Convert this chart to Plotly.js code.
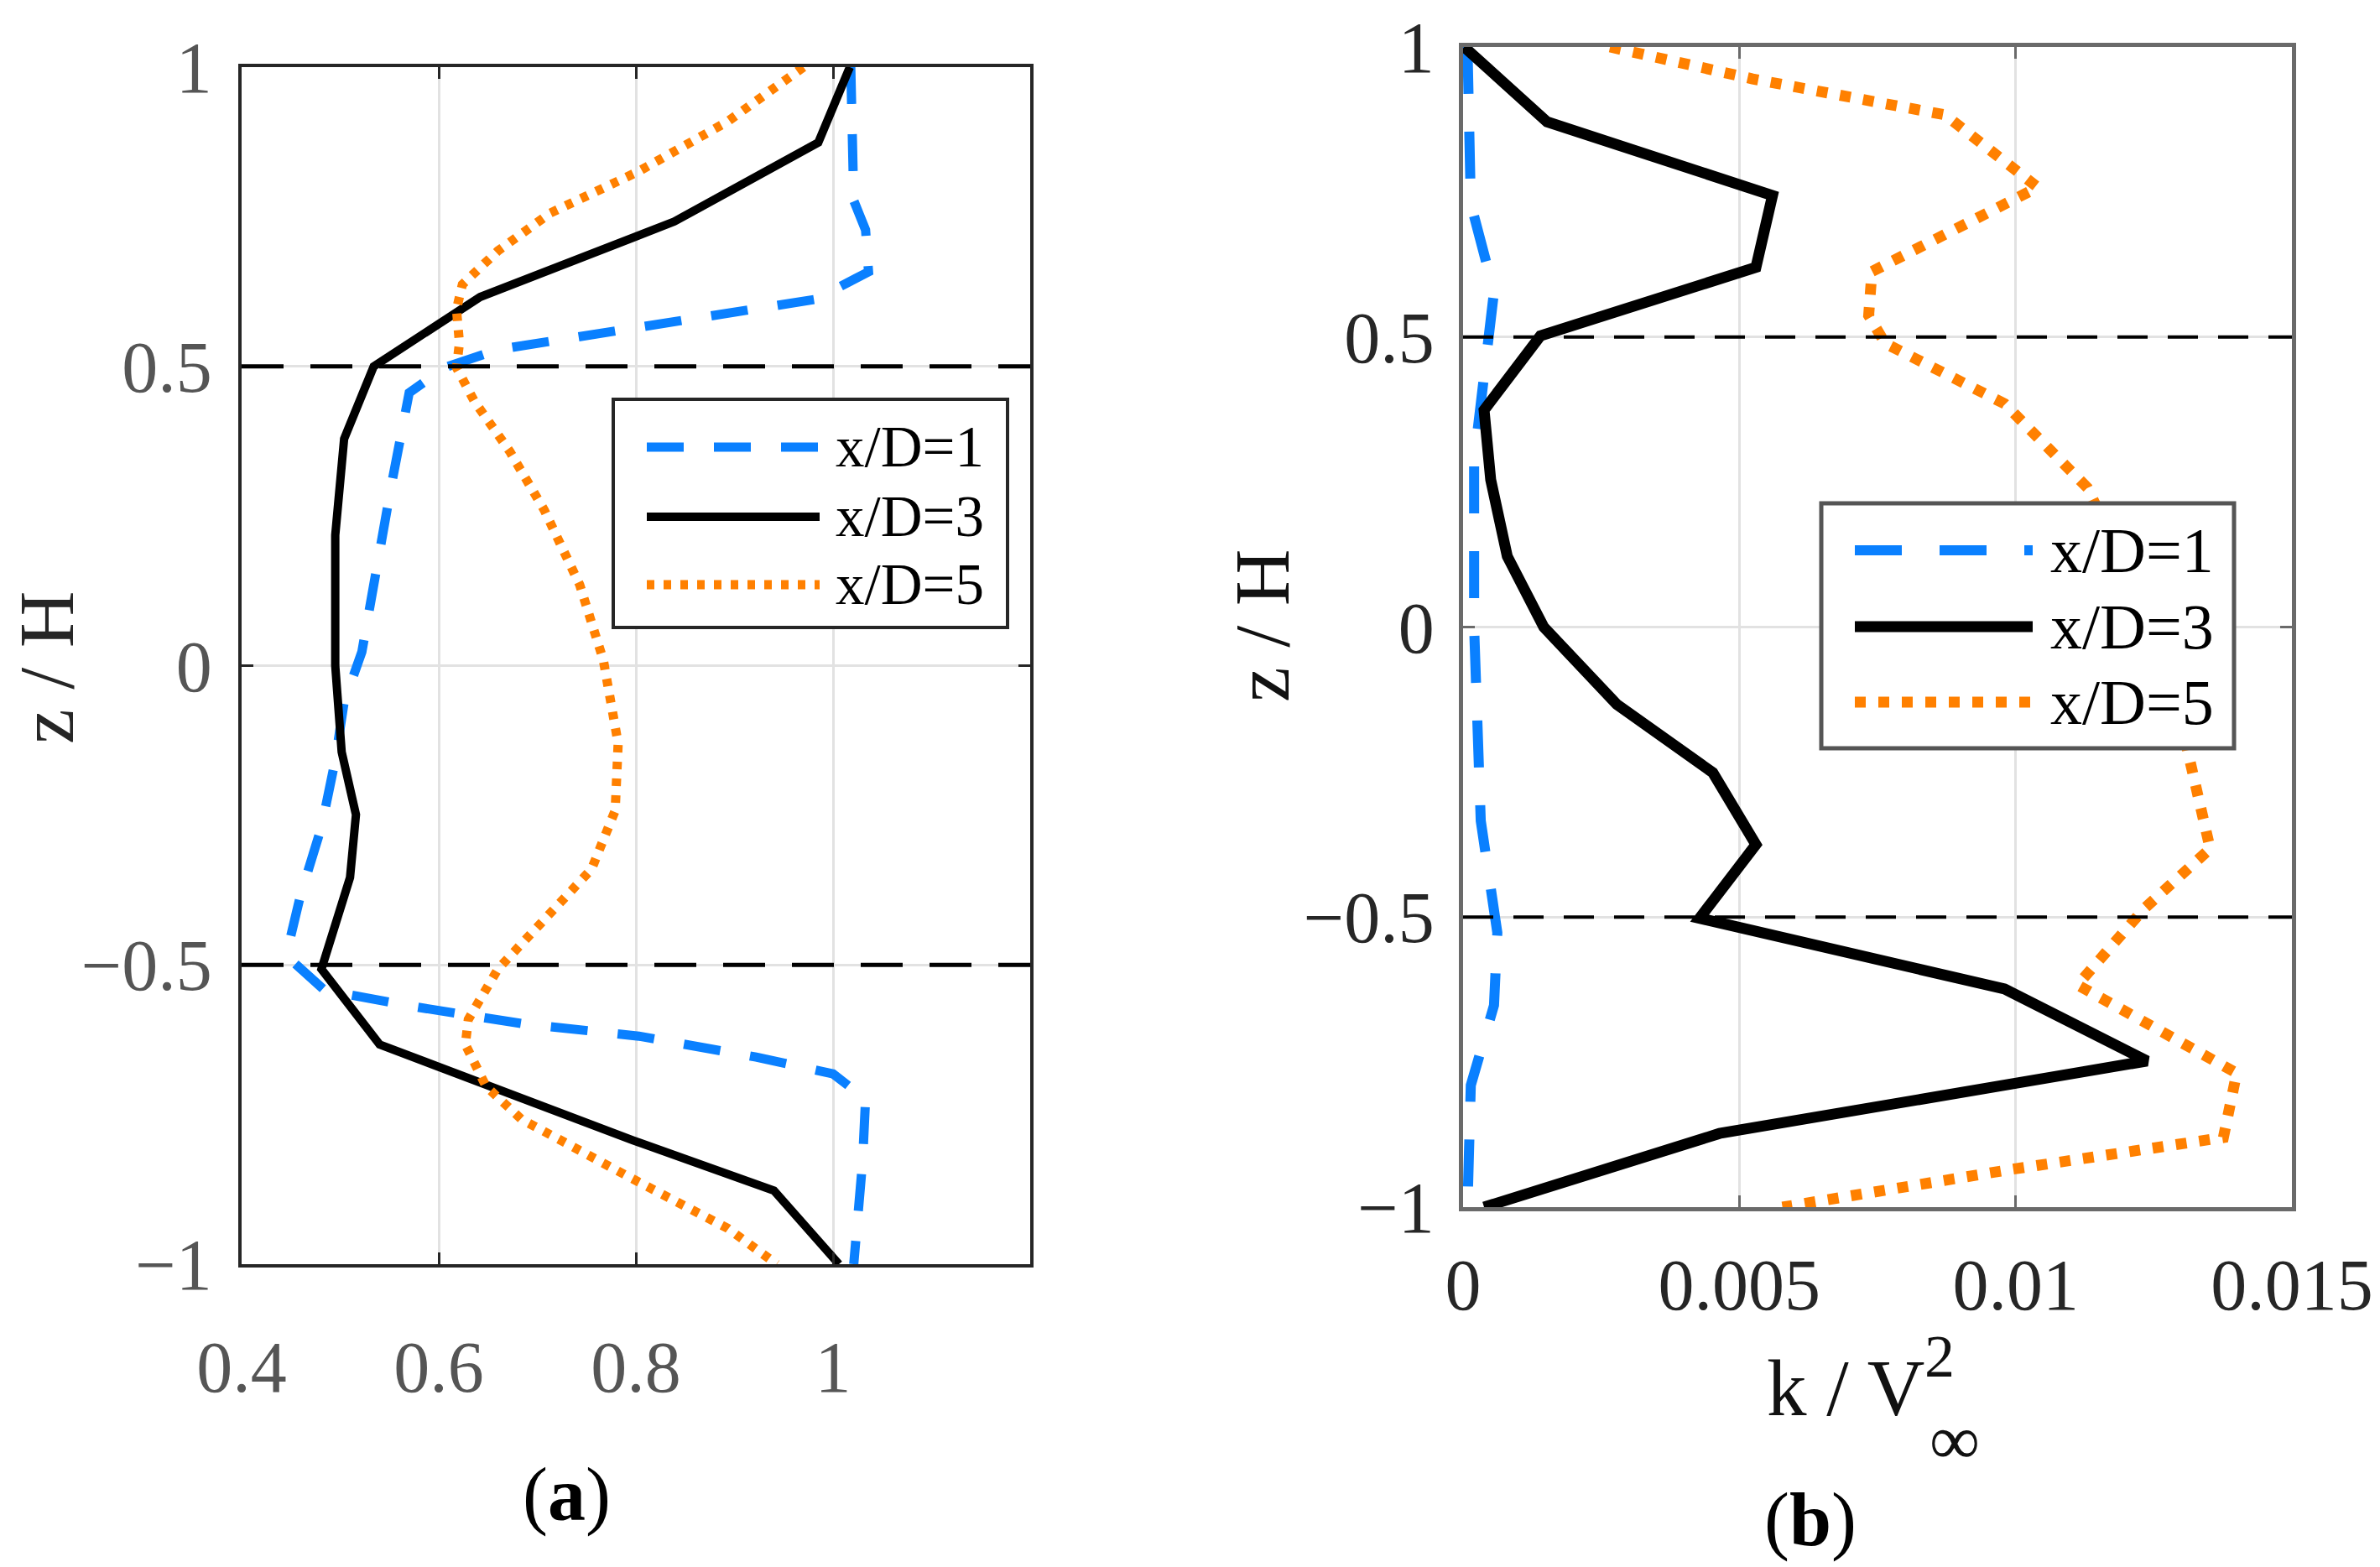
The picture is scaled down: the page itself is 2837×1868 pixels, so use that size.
<!DOCTYPE html>
<html>
<head>
<meta charset="utf-8">
<script src="https://cdn.plot.ly/plotly-3.0.1.min.js"></script>
<style>
  html, body { margin: 0; padding: 0; background: #ffffff; }
  #chart { width: 2837px; height: 1868px; }
</style>
</head>
<body>
<div id="chart"></div>
<script>
// ---------- data : panel (a) mean velocity u/V vs z/H ----------
const seriesNames = ["x/D=1", "x/D=3", "x/D=5"];

const zA_xD1 = [1, 0.777, 0.728, 0.658, 0.612, 0.567, 0.528, 0.498, 0.456, 0.302, 0.163, 0.023, -0.061, -0.158, -0.270, -0.382, -0.465, -0.493, -0.542, -0.570, -0.598, -0.619, -0.654, -0.682, -0.724, -0.828, -1];
const uA_xD1 = [1.018, 1.021, 1.033, 1.036, 0.982, 0.803, 0.660, 0.606, 0.570, 0.552, 0.537, 0.522, 0.504, 0.495, 0.481, 0.460, 0.448, 0.451, 0.484, 0.576, 0.684, 0.803, 0.922, 1.000, 1.033, 1.030, 1.021];

const zA_xD3 = [1, 0.874, 0.742, 0.616, 0.5, 0.379, 0.218, 0, -0.144, -0.249, -0.354, -0.507, -0.633, -0.793, -0.877, -1];
const uA_xD3 = [1.017, 0.985, 0.839, 0.642, 0.534, 0.504, 0.495, 0.495, 0.5015, 0.516, 0.510, 0.481, 0.540, 0.797, 0.940, 1.006];

const zA_xD5 = [1, 0.909, 0.826, 0.756, 0.693, 0.637, 0.595, 0.539, 0.498, 0.442, 0.358, 0.260, 0.135, 0.009, -0.130, -0.242, -0.340, -0.423, -0.507, -0.591, -0.633, -0.703, -0.758, -0.863, -0.940, -1];
const uA_xD5 = [0.970, 0.893, 0.803, 0.713, 0.660, 0.624, 0.618, 0.621, 0.618, 0.636, 0.672, 0.707, 0.743, 0.767, 0.782, 0.779, 0.755, 0.707, 0.660, 0.630, 0.627, 0.648, 0.684, 0.803, 0.893, 0.943];

// ---------- data : panel (b) turbulent kinetic energy k/V^2 vs z/H ----------
const zB_xD1 = [1, 0.730, 0.578, 0.44, 0.288, 0, -0.334, -0.527, -0.652, -0.790, -1];
const kB_xD1 = [0.00008, 0.00014, 0.00056, 0.00038, 0.0002, 0.0002, 0.00032, 0.00062, 0.00056, 0.00014, 0.00008];

const zB_xD3 = [1, 0.871, 0.744, 0.620, 0.502, 0.374, 0.254, 0.122, 0, -0.133, -0.251, -0.375, -0.502, -0.624, -0.748, -0.790, -0.873, -1];
const kB_xD3 = [0.00002, 0.00152, 0.0056, 0.0053, 0.0014, 0.00038, 0.0005, 0.0008, 0.00146, 0.00278, 0.00452, 0.0053, 0.00428, 0.0098, 0.01238, 0.0098, 0.00464, 0.00038];

const zB_xD5 = [1, 0.945, 0.883, 0.758, 0.613, 0.537, 0.489, 0.385, 0.240, 0.125, 0.0, -0.125, -0.230, -0.382, -0.486, -0.617, -0.769, -0.880, -0.935, -1];
const kB_xD5 = [0.00266, 0.00524, 0.00872, 0.0104, 0.0074, 0.00734, 0.00764, 0.0098, 0.0113, 0.0119, 0.0125, 0.0129, 0.01316, 0.01352, 0.01232, 0.01112, 0.0140, 0.01376, 0.00992, 0.00578];

// ---------- ticks ----------
const zTickVals = [-1, -0.5, 0, 0.5, 1];
const zTickText = ["\u22121", "\u22120.5", "0", "0.5", "1"];
const uTickVals = [0.4, 0.6, 0.8, 1];
const uTickText = ["0.4", "0.6", "0.8", "1"];
const kTickVals = [0, 0.005, 0.01, 0.015];
const kTickText = ["0", "0.005", "0.01", "0.015"];
const refLevels = [0.5, -0.5];

// ---------- styling ----------
const W = 2837, H = 1868;
const px = v => v / W;
const py = v => 1 - v / H;
const FONT = "Liberation Serif, Times New Roman, serif";
const BLUE = "#0a80ff", ORANGE = "#ff8000", BLACK = "#000000";

const styleA = [
  {color: BLUE, width: 11, dash: "44px,36px"},
  {color: BLACK, width: 10, dash: "solid"},
  {color: ORANGE, width: 11, dash: "9px,11px"}
];
const styleB = [
  {color: BLUE, width: 12, dash: "56px,45px"},
  {color: BLACK, width: 13, dash: "solid"},
  {color: ORANGE, width: 13, dash: "13px,15px"}
];

const seriesA = [[uA_xD1, zA_xD1], [uA_xD3, zA_xD3], [uA_xD5, zA_xD5]];
const seriesB = [[kB_xD1, zB_xD1], [kB_xD3, zB_xD3], [kB_xD5, zB_xD5]];

const traces = [];
seriesA.forEach((s, i) => traces.push({
  type: "scatter", mode: "lines", x: s[0], y: s[1], name: seriesNames[i],
  xaxis: "x", yaxis: "y", line: styleA[i], showlegend: false, hoverinfo: "skip"
}));
seriesB.forEach((s, i) => traces.push({
  type: "scatter", mode: "lines", x: s[0], y: s[1], name: seriesNames[i],
  xaxis: "x2", yaxis: "y2", line: styleB[i], showlegend: false, hoverinfo: "skip"
}));

function axisBase(lineColor, tickColor, lw) {
  return {
    showline: true, linecolor: lineColor, linewidth: lw, mirror: "ticks",
    ticks: "inside", ticklen: 14, tickwidth: 3, tickcolor: lineColor,
    showgrid: true, gridcolor: "#e2e2e2", gridwidth: 3, zeroline: false,
    tickfont: {family: FONT, size: 86, color: tickColor},
    tickmode: "array", fixedrange: true
  };
}

const layout = {
  width: W, height: H,
  margin: {l: 0, r: 0, t: 0, b: 0},
  paper_bgcolor: "#ffffff", plot_bgcolor: "#ffffff",
  showlegend: false,
  font: {family: FONT, color: "#000"},
  xaxis: Object.assign(axisBase("#262626", "#555555", 4), {
    domain: [px(288), px(1228)], range: [0.4, 1.2], anchor: "y",
    tickvals: uTickVals, ticktext: uTickText, ticklabelstandoff: 45
  }),
  yaxis: Object.assign(axisBase("#262626", "#555555", 4), {
    domain: [py(1507), py(80)], range: [-1, 1], anchor: "x",
    tickvals: zTickVals, ticktext: zTickText, ticklabelstandoff: 14
  }),
  xaxis2: Object.assign(axisBase("#6a6a6a", "#262626", 5), {
    domain: [px(1744), px(2732)], range: [0, 0.015], anchor: "y2",
    tickvals: kTickVals, ticktext: kTickText, ticklabelstandoff: 14
  }),
  yaxis2: Object.assign(axisBase("#6a6a6a", "#262626", 5), {
    domain: [py(1439), py(56)], range: [-1, 1], anchor: "x2",
    tickvals: zTickVals, ticktext: zTickText, ticklabelstandoff: 12
  }),
  shapes: [],
  annotations: []
};

// reference dashed lines at z/H = +-0.5
refLevels.forEach(v => {
  layout.shapes.push({type: "line", xref: "x domain", yref: "y", x0: 0, x1: 1, y0: v, y1: v,
    line: {color: "#000", width: 5, dash: "50px,32px"}});
  layout.shapes.push({type: "line", xref: "x2 domain", yref: "y2", x0: 0, x1: 1, y0: v, y1: v,
    line: {color: "#000", width: 4, dash: "36px,24px"}});
});

// legends (drawn as boxes with long line samples, MATLAB-style)
function addLegend(box, sx0, sx1, rows, textX, fontSize, styles, borderColor, borderW) {
  layout.shapes.push({type: "rect", xref: "paper", yref: "paper",
    x0: px(box[0]), x1: px(box[1]), y0: py(box[3]), y1: py(box[2]),
    fillcolor: "#ffffff", line: {color: borderColor, width: borderW}});
  rows.forEach((ry, i) => {
    layout.shapes.push({type: "line", xref: "paper", yref: "paper",
      x0: px(sx0), x1: px(sx1), y0: py(ry), y1: py(ry), line: styles[i]});
    layout.annotations.push({xref: "paper", yref: "paper", x: px(textX), y: py(ry),
      xanchor: "left", yanchor: "middle", showarrow: false, text: seriesNames[i],
      font: {family: FONT, size: fontSize, color: "#000"}});
  });
}
addLegend([731, 1201, 476, 748], 771, 977, [533, 616, 697], 994, 69, styleA, "#262626", 4);
addLegend([2171, 2663, 600, 892], 2211, 2423, [656, 747, 837], 2442, 76, styleB, "#555555", 5);

// axis titles
layout.annotations.push({xref: "paper", yref: "paper", x: px(55), y: py(796), textangle: -90,
  xanchor: "center", yanchor: "middle", showarrow: false, text: "z / H",
  font: {family: FONT, size: 94, color: "#262626"}});
layout.annotations.push({xref: "paper", yref: "paper", x: px(1504), y: py(746), textangle: -90,
  xanchor: "center", yanchor: "middle", showarrow: false, text: "z / H",
  font: {family: FONT, size: 94, color: "#111"}});
layout.annotations.push({xref: "paper", yref: "paper", x: px(2104), y: py(1655),
  xanchor: "left", yanchor: "middle", showarrow: false, text: "k / V",
  font: {family: FONT, size: 95, color: "#111"}});
layout.annotations.push({xref: "paper", yref: "paper", x: px(2292), y: py(1617),
  xanchor: "left", yanchor: "middle", showarrow: false, text: "2",
  font: {family: FONT, size: 72, color: "#111"}});
layout.annotations.push({xref: "paper", yref: "paper", x: px(2330), y: py(1716),
  xanchor: "center", yanchor: "middle", showarrow: false, text: "\u221E",
  font: {family: FONT, size: 84, color: "#111"}});

// panel labels
layout.annotations.push({xref: "paper", yref: "paper", x: px(675), y: py(1782),
  xanchor: "center", yanchor: "middle", showarrow: false, text: "(<b>a</b>)",
  font: {family: FONT, size: 90, color: "#000"}});
layout.annotations.push({xref: "paper", yref: "paper", x: px(2158), y: py(1812),
  xanchor: "center", yanchor: "middle", showarrow: false, text: "(<b>b</b>)",
  font: {family: FONT, size: 90, color: "#000"}});

Plotly.newPlot("chart", traces, layout, {staticPlot: true, displayModeBar: false});
</script>
</body>
</html>
